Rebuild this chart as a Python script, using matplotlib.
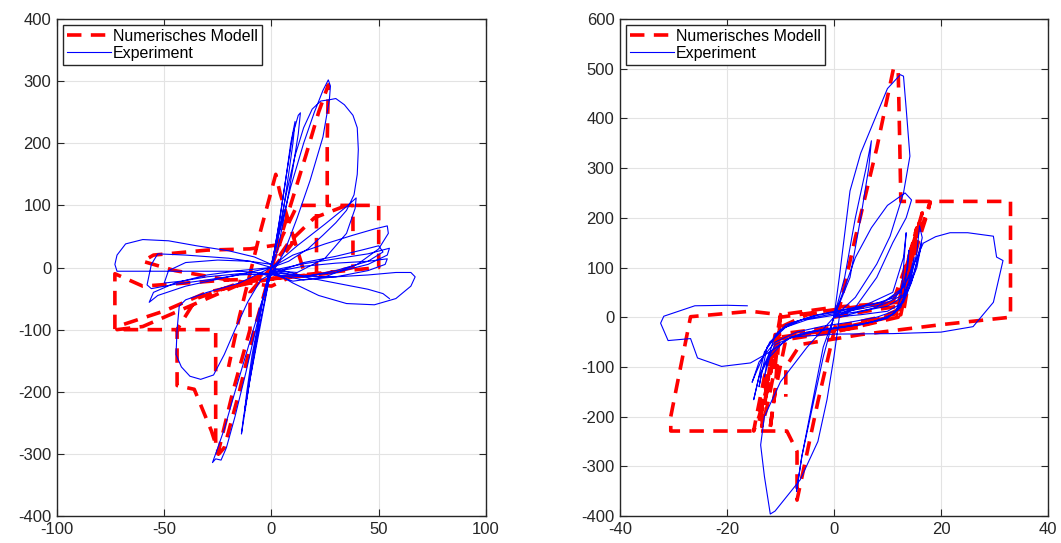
import numpy as np
import matplotlib
matplotlib.use("Agg")
import matplotlib.pyplot as plt

plt.rcParams['font.family'] = ['Liberation Sans', 'DejaVu Sans']
plt.rcParams['axes.unicode_minus'] = False

# ---- linkes Diagramm: Messung (Punkte entlang der Hysterese) ----
exp_links = [
    (0, 0), (3, 60), (7, 150), (10, 215), (12.5, 245), (13.5, 249), (12.5, 215), (10, 160), (7, 100), (3, 30), (0, 0),
    (-4, -50), (-8, -130), (-11, -200), (-12.5, -230), (-11.5, -200), (-9, -140), (-5, -70), (-2, -20), (0, 0),
    (10, 20), (25, 38), (38, 52), (48, 62), (54, 67), (54.5, 55), (50, 30), (40, 5), (25, -15), (10, -22), (0, -10),
    (-15, -12), (-30, -20), (-45, -27), (-56, -34), (-58, -28), (-56, 5), (-53, 22), (-40, 20), (-20, 15), (0, 5),
    (4, 60), (9, 130), (15, 200), (20, 250), (24, 285), (26.5, 302), (27.5, 292), (27, 270), (24, 210), (18, 140),
    (12, 80), (6, 25), (0, -10), (-5, -60), (-11, -130), (-17, -200), (-22, -260), (-25, -290), (-27.5, -314),
    (-26, -308), (-23.5, -310), (-21, -290), (-17, -240), (-12, -170), (-6, -80), (-2, -20), (0, 0),
    (12, 35), (25, 70), (35, 98), (39.5, 112), (39, 95), (35, 55), (25, 15), (12, -8), (0, -5),
    (15, 6), (30, 14), (45, 22), (55, 31), (54, 20), (45, 5), (30, -8), (15, -14), (0, -8),
    (15, 2), (30, 7), (45, 10), (54, 14), (53, 5), (45, -5), (30, -15), (15, -20), (0, -10),
    (-15, -6), (-35, -6), (-55, -6), (-72, -6), (-73, 5), (-72, 20), (-68, 38), (-60, 45), (-48, 43), (-35, 35),
    (-20, 27), (-8, 17), (0, 5),
    (3, 50), (7, 120), (11, 180), (15, 225), (19, 255), (23, 268), (27, 270), (30, 272), (34, 262), (38, 245),
    (40, 225), (40.5, 190), (40, 150), (38.5, 117), (35, 92), (30, 72), (24, 52), (17, 30), (8, 10), (0, 0),
    (-20, -15), (-40, -30), (-53, -45), (-57, -56), (-55, -40), (-45, -25), (-30, -12), (-15, -5), (0, 0),
    (4, 80), (7, 150), (9, 200), (11, 235), (10, 200), (8, 150), (5, 80), (0, 0), (-5, -90), (-10, -180), (-14, -268),
    (-13, -240), (-10, -180), (-6, -100), (0, 0),
    (-15, -25), (-30, -40), (-40, -52), (-43, -62), (-44, -100), (-44.5, -140), (-42, -160), (-38, -175),
    (-33, -180), (-27, -173), (-22, -140), (-17, -100), (-11, -55), (-5, -20), (0, -10),
    (15, 8), (30, 18), (42, 28), (50, 35), (52, 25), (45, 10), (30, -5), (15, -15), (0, -12),
    (-15, -10), (-30, -15), (-42, -22), (-50, -25), (-48, -5), (-40, 8), (-25, 12), (-10, 10), (0, 0),
    (15, -14), (30, -15), (45, -12), (58, -8), (65, -8), (67, -15), (65, -30), (58, -50), (48, -60),
    (35, -58), (22, -45), (10, -25), (0, -5),
    (15, -15), (30, -25), (45, -35), (52, -42), (55, -50),
]

# ---- linkes Diagramm: numerisches Modell ----
modell_links = [
    (0, 0), (5, 50), (12, 100), (21, 100), (21, -10), (10, -15), (0, -18), (-15, -25), (-35, -50),
    (-44, -100), (-44, -190), (-36, -196), (-28, -263), (-24.5, -300), (-22, -290), (-15, -200),
    (-8, -100), (0, 0), (8, 90), (16, 180), (22, 250), (26.5, 294), (26, 200), (26, 100), (38, 100),
    (38, 0), (25, -10), (10, -15), (0, -18), (-20, -20), (-40, -25), (-60, -30), (-73, -10), (-73, -100),
    (-55, -100), (-40, -100), (-26, -100), (-26, -290), (-25, -300), (-18, -200), (-10, -100), (-10, -40),
    (0, 0), (8, 40), (20, 80), (35, 100), (50, 100), (50, 0), (35, -5), (20, -10), (5, -15), (-10, -25),
    (-30, -40), (-50, -70), (-72, -95), (-72, -100), (-60, -95), (-40, -65), (-20, -35), (0, -5), (10, 40),
    (-10, 30), (-30, 28), (-55, 20), (-60, 10), (-45, -5), (-20, -20), (0, -30), (15, -5), (4, 120),
    (2, 150), (-5, 60), (-15, -80), (-20, -160),
]

# ---- rechtes Diagramm: Messung ----
exp_rechts = [
    (0, 0), (5, 5), (10, 12), (13, 30), (14.5, 70), (16, 130), (16.4, 150), (15.5, 100), (13.5, 45), (10, 22),
    (5, 12), (0, 4), (-5, -5), (-9, -20), (-12, -50), (-14.5, -110), (-15.3, -131), (-14, -90), (-11, -50),
    (-7, -30), (-2, -18), (3, -10), (8, 0), (12, 15), (14, 60), (15.5, 130), (16, 184), (16.5, 160),
    (15, 90), (13, 45), (9, 25), (4, 15), (-1, 5), (-6, -5), (-10, -25), (-13, -70), (-15, -166),
    (-14, -120), (-12, -70), (-8, -40), (-3, -28), (2, -20), (7, -10), (11, 5), (13, 35), (14, 135),
    (13.8, 100), (12.5, 50), (9, 30), (3, 18), (-3, 5), (-8, -12), (-11, -35), (-12.5, -90), (-13, -120),
    (-12, -80), (-9, -45), (-4, -28), (1, -20), (6, -12), (10, -2), (12.5, 20), (14.5, 90), (15, 120),
    (14, 80), (11.5, 40), (7, 25), (2, 14), (-4, 2), (-9, -15), (-12.5, -60), (-14, -140), (-13.5, -110),
    (-11, -55), (-6, -32), (0, -22), (5, -15), (9, -5), (11.5, 10), (12.5, 40), (13, 100), (13.5, 170),
    (13, 120), (11, 50), (5, 20), (0, 0),
    (2, 80), (4, 200), (6, 300), (7, 355), (6.5, 300), (5, 200), (3, 80), (0, 0),
    (-2, -80), (-4, -180), (-6, -280), (-7, -350), (-6, -280), (-4, -170), (-2, -60), (0, 0),
    (2, 60), (4, 120), (7, 180), (10, 225), (13.3, 250), (14.5, 236), (13.5, 200), (11, 150), (8, 80), (4, 20), (0, 0),
    (1, 80), (3, 254), (5, 330), (8, 408), (10, 460), (12.4, 488), (13, 485), (13.5, 420), (14.2, 324),
    (13, 250), (10.5, 163), (8, 107), (4, 40), (0, 0),
    (-5, -60), (-10, -130), (-13, -200), (-13.7, -257), (-13, -320), (-11.9, -396), (-11, -390),
    (-6.3, -327), (-3, -250), (-1.3, -166), (0, -80), (1, 0),
    (8, 20), (13, 60), (16.7, 149), (19, 162), (21.7, 170), (25, 170), (29.8, 163), (30.4, 121),
    (31.6, 114), (29.8, 30), (26, -19), (20, -30), (11, -33), (0, -34), (-8, -40), (-12, -70),
    (-15.6, -92), (-21, -99), (-25.5, -82), (-26.8, -43), (-31, -47), (-32.4, -12), (-31.8, 2),
    (-26, 23), (-20, 24), (-16.2, 23),
]

# ---- rechtes Diagramm: numerisches Modell ----
modell_rechts = [
    (0, 0), (6, 12), (12, 22), (14, 80), (16, 160), (17.5, 210), (18, 232), (17, 200), (14, 100),
    (13, 20), (5, -20), (-5, -35), (-11, -45), (-13, -120), (-14.5, -200), (-15, -229), (-14, -200),
    (-12, -120), (-10, -20), (-5, 5), (5, 20), (12, 25), (13, 70), (15, 150), (16, 190), (15, 150),
    (13.5, 60), (12.5, 5), (0, -25), (-10, -40), (-12, -100), (-13, -180), (-13.5, -220), (-12.5, -180),
    (-11, -100), (-10, 0), (0, 15), (11, 30), (14, 120), (15.5, 180), (14, 120), (12, 0), (0, -30),
    (-9, -45), (-11, -150), (-12, -229), (-11, -150), (-10, 5), (0, 20), (12, 30), (13.5, 100),
    (16.5, 210), (15, 140), (13, 10), (0, -20), (-11, -35), (-12.5, -130), (-14, -210), (-12.5, -150),
    (-11, -60), (-10, 5), (-15.6, 12), (-26.8, 1), (-30.5, -200),
    (-30.5, -229), (-16, -229), (-8.8, -229), (-6.9, -270), (-6.9, -368), (-3, -170), (0, -30),
    (4, 160), (8, 340), (11.1, 499), (12, 500), (12.3, 350), (12.5, 233), (18, 233), (33, 233),
    (33, 0), (20, -15), (5, -35), (-6.3, -55), (-9, -100), (-9, -160),
]

achsen = [
    dict(exp=exp_links, mod=modell_links, xlim=(-100, 100), xticks=np.arange(-100, 101, 50),
         ylim=(-400, 400), yticks=np.arange(-400, 401, 100)),
    dict(exp=exp_rechts, mod=modell_rechts, xlim=(-40, 40), xticks=np.arange(-40, 41, 20),
         ylim=(-400, 600), yticks=np.arange(-400, 601, 100)),
]

fig = plt.figure(figsize=(10.61, 5.43), dpi=100)
positionen = [[0.0537, 0.0497, 0.4043, 0.9153], [0.5843, 0.0497, 0.4034, 0.9153]]
dunkel = '#262626'

for pos, a in zip(positionen, achsen):
    ax = fig.add_axes(pos)
    mx, my = zip(*a['mod'])
    ex, ey = zip(*a['exp'])
    ax.plot(mx, my, color='#ff0000', lw=2.6, ls='--', dashes=(4, 2.6), label='Numerisches Modell', zorder=3)
    ax.plot(ex, ey, color='#0000ff', lw=0.8, label='Experiment', zorder=4)
    ax.set_xlim(a['xlim'])
    ax.set_ylim(a['ylim'])
    ax.set_xticks(a['xticks'])
    ax.set_yticks(a['yticks'])
    ax.grid(True, color='#e3e3e3', lw=0.8)
    ax.set_axisbelow(True)
    ax.tick_params(direction='in', top=True, right=True, length=5, color=dunkel,
                   labelcolor=dunkel, labelsize=12, pad=4)
    for s in ax.spines.values():
        s.set_color(dunkel)
        s.set_linewidth(1.0)
    leg = ax.legend(loc='upper left', fontsize=11.5, fancybox=False, framealpha=1,
                    edgecolor=dunkel, handlelength=2.8, handletextpad=0.1, labelspacing=0.15,
                    borderpad=0.25, borderaxespad=0.35)
    leg.get_frame().set_linewidth(1.0)

fig.savefig('out.png', dpi=100)
